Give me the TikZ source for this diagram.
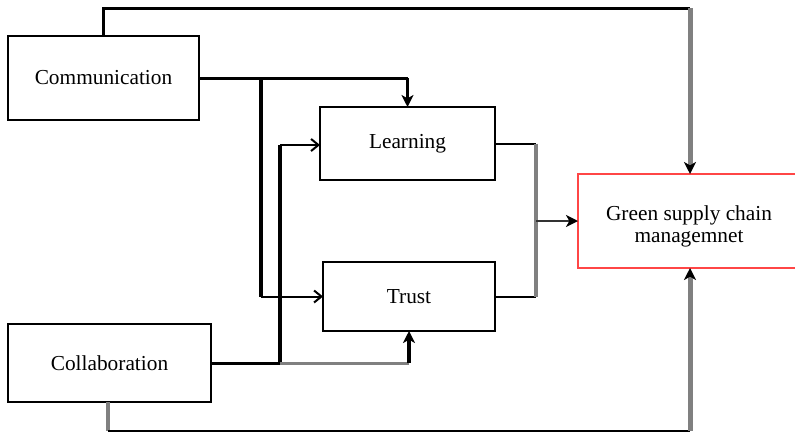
\documentclass[tikz,border=0pt]{standalone}
\usepackage{fontspec}
\setmainfont{Liberation Serif}
\usetikzlibrary{arrows.meta}
\definecolor{lgray}{RGB}{128,128,128}
\definecolor{lred}{RGB}{255,70,70}
\begin{document}
\begin{tikzpicture}[x=0.75pt,y=-0.75pt,
  box/.style={draw=black,line width=1.5pt,fill=white,inner sep=0pt,outer sep=0pt,align=center,
    font=\fontsize{16}{17}\selectfont},
  wire/.style={line width=2.25pt,black},
  fat/.style={line width=3pt,black},
  gwire/.style={line width=3.75pt,lgray},
  tip/.style={-{Stealth[length=9pt,width=9pt,inset=2.5pt,color=black]}},
  sidetip/.style={-{Straight Barb[length=5.5pt,width=9pt,color=black]}},
  line join=miter]
\useasboundingbox (0,0) rectangle (795,432);
\clip (0,0) rectangle (795,432);
\fill[white] (0,0) rectangle (795,432);
% nodes
\node[box,minimum width=143.25pt,minimum height=63pt] (comm) at (103.5,78) {Communication};
\node[box,minimum width=131.25pt,minimum height=54.75pt] (learn) at (407.5,143.5) {Learning};
\node[box,minimum width=129pt,minimum height=51.75pt] (trust) at (409,296.5) {Trust};
\node[box,minimum width=152.25pt,minimum height=58.5pt] (collab) at (109.5,363) {Collaboration};
\node[box,draw=lred,minimum width=166.5pt,minimum height=70.5pt] (gscm) at (689,221) {\rule{0pt}{19pt}Green supply chain\\managemnet};
% junction coordinates
\coordinate (t1) at (103.5,8);
\coordinate (t2) at (690,8);
\coordinate (c1) at (261,78);
\coordinate (c2) at (407.5,78);
\coordinate (c3) at (261,296.5);
\coordinate (k1) at (280,363);
\coordinate (k2) at (280,145);
\coordinate (k3) at (409,363);
\coordinate (b1) at (108,431);
\coordinate (b2) at (690,431);
\coordinate (r1) at (536,143.5);
\coordinate (r2) at (536,296.5);
\coordinate (r3) at (536,221);
% top loop: communication -> GSCM
\draw[wire] (comm.north) -- (t1) -- (t2);
\draw[gwire,tip] (t2) -- (gscm.north -| t2);
% communication -> learning
\draw[wire] (comm.east) -- (c1) -- (c2);
\draw[wire,tip] (c2) -- (learn.north);
% communication -> trust
\draw[fat] (c1) -- (c3);
\draw[line width=1.5pt,sidetip] (c3) -- (trust.west);
% collaboration -> learning
\draw[wire] (collab.east) -- (k1);
\draw[fat] (k1) -- (k2);
\draw[line width=1.5pt,sidetip] (k2) -- (learn.west |- k2);
% collaboration -> trust
\draw[line width=2.25pt,lgray] (k1) -- (k3);
\draw[fat,tip] (k3) -- (trust.south);
% bottom loop: collaboration -> GSCM
\draw[line width=2.5pt,lgray] (collab.south -| b1) -- (b1);
\draw[line width=1.5pt,black] (b1) -- (b2);
\draw[gwire,tip] (b2) -- (gscm.south -| b2);
% learning, trust -> GSCM
\draw[line width=1.5pt] (learn.east) -- (r1);
\draw[line width=1.5pt] (trust.east) -- (r2);
\draw[line width=2.75pt,lgray] (r1) -- (r2);
\draw[line width=1.5pt,black!80,tip] (r3) -- (gscm.west |- r3);
\end{tikzpicture}
\end{document}
